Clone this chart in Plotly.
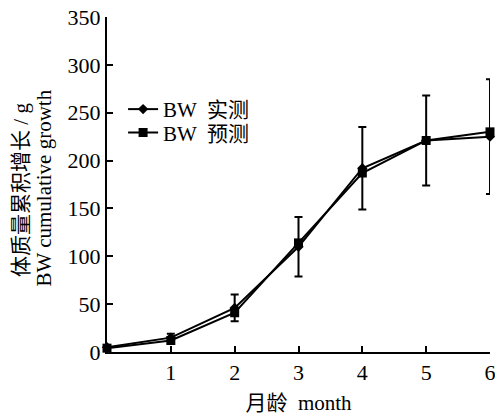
import plotly.graph_objects as go

# Body-weight cumulative growth by month of age
months = [0, 1, 2, 3, 4, 5, 6]
bw_measured = [5, 15, 46, 110, 192, 221, 225]
bw_predicted = [4, 12, 41, 114, 187, 221, 230]
bw_sd = [2, 4, 14, 31, 43, 47, 60]

x_ticks = [1, 2, 3, 4, 5, 6]
y_ticks = [0, 50, 100, 150, 200, 250, 300, 350]

FONT = "Liberation Serif, Times New Roman, Noto Sans CJK SC, serif"

fig = go.Figure()

fig.add_trace(go.Scatter(
    x=months, y=bw_predicted, name="BW  预测",
    mode="lines+markers", legend="legend2", cliponaxis=False,
    line=dict(color="black", width=2),
    marker=dict(symbol="square", size=9, color="black"),
))

fig.add_trace(go.Scatter(
    x=months, y=bw_measured, name="BW  实测",
    mode="lines+markers", legend="legend", cliponaxis=False,
    line=dict(color="black", width=2),
    marker=dict(symbol="diamond", size=8, color="black"),
    error_y=dict(type="data", array=bw_sd, visible=True,
                 color="black", thickness=2, width=4),
))

legend_style = dict(
    xanchor="left", yanchor="middle",
    bgcolor="rgba(0,0,0,0)",
    font=dict(family=FONT, size=21),
    itemwidth=30,
)

fig.update_layout(
    width=495, height=415,
    margin=dict(l=107, r=5, t=17, b=63),
    paper_bgcolor="white", plot_bgcolor="white",
    font=dict(family=FONT, size=22, color="black"),
    showlegend=True,
    legend=dict(x=0.042, y=0.724, **legend_style),
    legend2=dict(x=0.042, y=0.654, **legend_style),
    xaxis=dict(
        range=[0, 6], tickvals=x_ticks, ticktext=[str(v) for v in x_ticks],
        ticks="inside", ticklen=6, tickwidth=2, tickcolor="black",
        showline=True, linecolor="black", linewidth=2,
        showgrid=False, zeroline=False,
        tickfont=dict(size=22), ticklabeloverflow="allow",
        automargin=False,
        title=dict(text="月龄  month", standoff=12, font=dict(size=21)),
    ),
    yaxis=dict(
        range=[0, 350], tickvals=y_ticks,
        ticks="inside", ticklen=6, tickwidth=2, tickcolor="black",
        showline=True, linecolor="black", linewidth=2,
        showgrid=False, zeroline=False,
        tickfont=dict(size=22), ticklabeloverflow="allow",
        automargin=False,
    ),
    annotations=[
        dict(text="体质量累积增长 / g",
             xref="paper", yref="paper", x=-0.2245, y=0.484,
             xanchor="center", yanchor="middle",
             textangle=-90, showarrow=False,
             font=dict(family=FONT, size=21)),
        dict(text="BW cumulative growth",
             xref="paper", yref="paper", x=-0.167, y=0.488,
             xanchor="center", yanchor="middle",
             textangle=-90, showarrow=False,
             font=dict(family=FONT, size=21)),
    ],
)

fig.write_html("out.html")
